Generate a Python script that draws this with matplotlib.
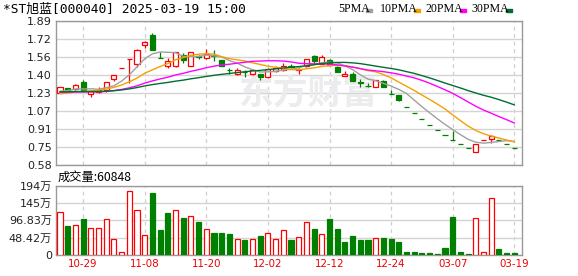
import matplotlib.pyplot as plt
import numpy as np
import pandas as pd

plt.rcParams['font.family'] = ['DejaVu Sans', 'Noto Sans CJK SC']

# 日期 (60 个交易日)
dates = ['10-24', '10-25', '10-28', '10-29', '10-30', '10-31', '11-01', '11-04', '11-05', '11-06',
         '11-07', '11-08', '11-11', '11-12', '11-13', '11-14', '11-15', '11-18', '11-19', '11-20',
         '11-21', '11-22', '11-25', '11-26', '11-27', '11-28', '11-29', '12-02', '12-03', '12-04',
         '12-05', '12-06', '12-09', '12-10', '12-11', '12-12', '12-13', '12-16', '12-17', '12-18',
         '12-19', '12-20', '12-23', '12-24', '12-25', '12-26', '12-27', '12-30', '12-31', '03-05',
         '03-06', '03-07', '03-10', '03-11', '03-12', '03-13', '03-14', '03-17', '03-18', '03-19']

opens = [1.23, 1.28, 1.27, 1.335, 1.225, 1.24, 1.26, 1.365, 1.465, 1.54,
         1.50, 1.665, 1.76, 1.55, 1.48, 1.475, 1.575, 1.48, 1.565, 1.55,
         1.58, 1.535, 1.445, 1.41, 1.425, 1.41, 1.405, 1.375, 1.435, 1.445,
         1.475, 1.445, 1.48, 1.565, 1.50, 1.53, 1.47, 1.39, 1.405, 1.33,
         1.30, 1.29, 1.345, 1.225, 1.215, 1.11, 1.05, 0.995, 0.945, 0.90,
         0.855, 0.81, 0.77, 0.73, 0.695, 0.81, 0.82, 0.81, 0.77, 0.73]
highs = [1.285, 1.28, 1.315, 1.35, 1.26, 1.29, 1.335, 1.40, 1.465, 1.54,
         1.63, 1.71, 1.78, 1.61, 1.55, 1.605, 1.60, 1.605, 1.58, 1.63,
         1.625, 1.535, 1.46, 1.465, 1.44, 1.45, 1.405, 1.46, 1.475, 1.51,
         1.50, 1.46, 1.545, 1.58, 1.58, 1.54, 1.475, 1.435, 1.42, 1.36,
         1.32, 1.355, 1.35, 1.26, 1.215, 1.11, 1.05, 0.995, 0.945, 0.90,
         0.855, 0.89, 0.77, 0.73, 0.77, 0.81, 0.85, 0.81, 0.77, 0.73]
lows = [1.23, 1.255, 1.26, 1.25, 1.195, 1.235, 1.245, 1.345, 1.465, 1.32,
        1.47, 1.645, 1.62, 1.55, 1.465, 1.47, 1.51, 1.48, 1.545, 1.54,
        1.525, 1.48, 1.41, 1.395, 1.375, 1.40, 1.35, 1.37, 1.425, 1.43,
        1.46, 1.41, 1.47, 1.50, 1.495, 1.485, 1.425, 1.385, 1.345, 1.29,
        1.285, 1.29, 1.29, 1.225, 1.165, 1.11, 1.05, 0.995, 0.945, 0.90,
        0.855, 0.81, 0.77, 0.73, 0.695, 0.81, 0.78, 0.81, 0.77, 0.73]
closes = [1.285, 1.26, 1.31, 1.25, 1.255, 1.26, 1.335, 1.395, 1.465, 1.54,
          1.62, 1.70, 1.62, 1.55, 1.525, 1.605, 1.53, 1.605, 1.56, 1.59,
          1.57, 1.48, 1.44, 1.445, 1.42, 1.44, 1.375, 1.45, 1.465, 1.48,
          1.47, 1.455, 1.54, 1.52, 1.56, 1.49, 1.425, 1.41, 1.345, 1.325,
          1.295, 1.35, 1.29, 1.225, 1.17, 1.11, 1.05, 0.995, 0.945, 0.90,
          0.855, 0.81, 0.77, 0.73, 0.77, 0.81, 0.845, 0.81, 0.77, 0.73]
# 图中看不到的前 29 日收盘价 (估计值, 用于均线)
prior_closes = [1.26, 1.25, 1.27, 1.25, 1.24, 1.26, 1.25, 1.26, 1.25, 1.26,
                1.25, 1.26, 1.24, 1.25, 1.26, 1.25, 1.24, 1.26, 1.25, 1.25,
                1.22, 1.21, 1.20, 1.20, 1.21, 1.23, 1.24, 1.25, 1.245]

# 成交量 (万手) 与涨跌 (1 涨, 0 跌)
volumes = [119.3, 81.0, 83.9, 100.6, 74.5, 74.5, 99.7, 43.8, 7.5, 178.0,
           124.9, 55.0, 173.3, 69.9, 117.4, 124.9, 103.4, 109.0, 92.2, 71.8,
           62.4, 62.4, 58.7, 43.8, 41.9, 43.8, 53.1, 61.5, 43.8, 69.0,
           41.9, 49.4, 91.3, 72.7, 57.8, 99.7, 72.7, 36.3, 53.1, 41.9,
           41.9, 46.6, 47.5, 44.7, 36.3, 8.4, 8.4, 5.6, 5.6, 2.8,
           18.6, 106.2, 8.4, 2.8, 102.5, 7.5, 158.5, 16.8, 5.6, 6.08]
vol_up = [1, 0, 1, 0, 1, 1, 1, 1, 1, 1,
          1, 1, 0, 0, 0, 1, 0, 1, 0, 1,
          0, 0, 0, 1, 0, 1, 0, 1, 1, 1,
          0, 1, 1, 0, 1, 0, 0, 0, 0, 0,
          0, 1, 0, 0, 0, 0, 0, 0, 0, 0,
          0, 0, 0, 0, 1, 1, 1, 0, 0, 0]

price_ticks = ['0.58', '0.75', '0.91', '1.07', '1.23', '1.40', '1.56', '1.72', '1.89']
vol_ticks = ['0', '48.42万', '96.83万', '145万', '194万']
xtick_labels = ['10-29', '11-08', '11-20', '12-02', '12-12', '12-24', '03-07', '03-19']

ma_periods = [5, 10, 20, 30]
ma_colors = ['#a0a0a0', '#f5a000', '#ff00ff', '#006e30']

RED = '#ff0000'
GREEN = '#008000'
GRID = '#d4d4d4'

fig = plt.figure(figsize=(5.78, 2.76), dpi=100)
ax = fig.add_axes([0.0969, 0.4022, 0.8062, 0.5228])
axv = fig.add_axes([0.0969, 0.0761, 0.8062, 0.2511])

x = np.arange(len(dates))
xt = [dates.index(d) for d in xtick_labels]
w = 0.66

# K 线
for i in x:
    o, h, l, c = opens[i], highs[i], lows[i], closes[i]
    up = c > o or (c == o and vol_up[i])
    col = RED if up else GREEN
    top, bot = max(o, c), min(o, c)
    ax.vlines(i, top, h, color=col, lw=0.9, zorder=3)
    ax.vlines(i, l, bot, color=col, lw=0.9, zorder=3)
    ax.bar(i, top - bot, w, bot, facecolor='white' if up else GREEN,
           edgecolor=col, lw=0.9, zorder=4)

# 均线
s = pd.Series(prior_closes + closes)
for n, col in zip(ma_periods, ma_colors):
    ma = s.rolling(n).mean().iloc[-len(closes):].values
    ax.plot(x, ma, color=col, lw=1.0, zorder=5)

ymin, ymax = 0.58, 1.89
ax.set_ylim(ymin, ymax)
ax.set_yticks(np.linspace(ymin, ymax, len(price_ticks)))
ax.set_yticklabels(price_ticks)

# 成交量
for i in x:
    up = vol_up[i]
    axv.bar(i, volumes[i], w, facecolor='white' if up else GREEN,
            edgecolor=RED if up else GREEN, lw=0.9, zorder=3)
vmax = 193.67
axv.set_ylim(0, vmax)
axv.set_yticks(np.linspace(0, vmax, len(vol_ticks)))
axv.set_yticklabels(vol_ticks)

for a in (ax, axv):
    a.set_xlim(-0.52, 60.0)
    a.set_xticks(xt)
    a.grid(axis='y', color=GRID, lw=1.0)
    a.grid(axis='x', color='#cfcfcf', lw=0.9, ls=(0, (3, 3)))
    a.set_axisbelow(True)
    a.tick_params(length=0, pad=3, labelsize=8, colors='#222222')
    for sp in a.spines.values():
        sp.set_color('#999999')
        sp.set_linewidth(1.0)
ax.set_xticklabels([])
axv.set_xticklabels(xtick_labels, color='#ee0000', fontsize=7.4)

# 水印
ax.text(0.541, 0.50, '东方财富', transform=ax.transAxes, fontsize=25, fontweight='bold',
        color='#ececee', ha='center', va='center', zorder=1, family='Noto Sans CJK SC')

# 标题与图例
fig.text(0.005, 0.967, '*ST旭蓝[000040] 2025-03-19 15:00', fontsize=9.3, va='center',
         family=['DejaVu Sans Mono', 'Noto Sans CJK SC'])
leg_x = [338, 380, 425.5, 471.5]
for n, col, lx in zip(ma_periods, ma_colors, leg_x):
    fig.text(lx / 578, 0.967, f'{n}PMA', fontsize=8.6, va='center', family='Liberation Serif')
    fig.patches.append(plt.Rectangle(((lx + 6.6 * len(str(n)) + 21) / 578, 0.958), 6 / 578, 3 / 276,
                                     transform=fig.transFigure, color=col, figure=fig))

fig.text(58 / 578, 1 - 177 / 276, '成交量:60848', fontsize=8.8, va='center',
         family=['Noto Sans CJK SC', 'DejaVu Sans'])

fig.savefig('out.png', dpi=100)
